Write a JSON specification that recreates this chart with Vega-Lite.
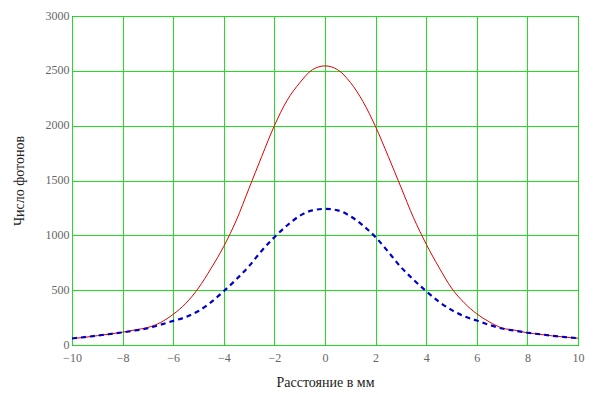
{
  "$schema": "https://vega.github.io/schema/vega-lite/v6.json",
  "width": 506,
  "height": 329,
  "autosize": {"type": "none"},
  "padding": {"left": 72, "top": 16, "right": 24, "bottom": 49},
  "background": "white",
  "config": {
    "view": {"stroke": "black", "strokeWidth": 1},
    "font": "Liberation Serif"
  },
  "datasets": {
    "red": [
      {"x": -10, "y": 58}, {"x": -9.5, "y": 70}, {"x": -9, "y": 85}, {"x": -8.5, "y": 100},
      {"x": -8, "y": 117}, {"x": -7.5, "y": 138}, {"x": -7, "y": 160}, {"x": -6.5, "y": 205},
      {"x": -6, "y": 280}, {"x": -5.5, "y": 380}, {"x": -5, "y": 520}, {"x": -4.5, "y": 700},
      {"x": -4, "y": 900}, {"x": -3.5, "y": 1140}, {"x": -3, "y": 1430}, {"x": -2.5, "y": 1720},
      {"x": -2, "y": 2000}, {"x": -1.5, "y": 2230}, {"x": -1, "y": 2390}, {"x": -0.5, "y": 2510},
      {"x": 0, "y": 2545}, {"x": 0.5, "y": 2510}, {"x": 1, "y": 2395}, {"x": 1.5, "y": 2220},
      {"x": 2, "y": 1990}, {"x": 2.5, "y": 1720}, {"x": 3, "y": 1440}, {"x": 3.5, "y": 1160},
      {"x": 4, "y": 920}, {"x": 4.5, "y": 710}, {"x": 5, "y": 520}, {"x": 5.5, "y": 385},
      {"x": 6, "y": 284}, {"x": 6.5, "y": 210}, {"x": 7, "y": 155}, {"x": 7.5, "y": 135},
      {"x": 8, "y": 111}, {"x": 8.5, "y": 97}, {"x": 9, "y": 83}, {"x": 9.5, "y": 72},
      {"x": 10, "y": 62}
    ],
    "blue": [
      {"x": -10, "y": 60}, {"x": -9.5, "y": 72}, {"x": -9, "y": 86}, {"x": -8.5, "y": 100},
      {"x": -8, "y": 115}, {"x": -7.5, "y": 132}, {"x": -7, "y": 153}, {"x": -6.5, "y": 185},
      {"x": -6, "y": 220}, {"x": -5.5, "y": 255}, {"x": -5, "y": 310}, {"x": -4.5, "y": 390},
      {"x": -4, "y": 491}, {"x": -3.5, "y": 600}, {"x": -3, "y": 720}, {"x": -2.5, "y": 860},
      {"x": -2, "y": 983}, {"x": -1.5, "y": 1090}, {"x": -1, "y": 1178}, {"x": -0.5, "y": 1228},
      {"x": 0, "y": 1241}, {"x": 0.5, "y": 1228}, {"x": 1, "y": 1175}, {"x": 1.5, "y": 1090},
      {"x": 2, "y": 983}, {"x": 2.5, "y": 850}, {"x": 3, "y": 710}, {"x": 3.5, "y": 595},
      {"x": 4, "y": 491}, {"x": 4.5, "y": 395}, {"x": 5, "y": 320}, {"x": 5.5, "y": 262},
      {"x": 6, "y": 223}, {"x": 6.5, "y": 183}, {"x": 7, "y": 150}, {"x": 7.5, "y": 130},
      {"x": 8, "y": 112}, {"x": 8.5, "y": 98}, {"x": 9, "y": 84}, {"x": 9.5, "y": 72},
      {"x": 10, "y": 62}
    ]
  },
  "layer": [
    {
      "data": {"name": "red"},
      "mark": {"type": "line", "color": "#e00000", "strokeWidth": 1, "interpolate": "monotone"},
      "encoding": {
        "x": {
          "field": "x", "type": "quantitative",
          "scale": {"domain": [-10, 10], "nice": false, "zero": false},
          "axis": {
            "values": [-10, -8, -6, -4, -2, 0, 2, 4, 6, 8, 10],
            "title": "Расстояние в мм",
            "grid": true, "gridColor": "#22dd22", "gridWidth": 1, "gridOpacity": 1,
            "domain": false, "ticks": false,
            "labelFlush": false, "labelOverlap": false, "labelBound": false,
            "labelColor": "#666666", "labelFontSize": 12, "labelPadding": 7,
            "labelFont": "Liberation Serif",
            "titleFont": "Liberation Serif", "titleFontSize": 14, "titleFontWeight": "normal",
            "titleColor": "#222222", "titlePadding": 12
          }
        },
        "y": {
          "field": "y", "type": "quantitative",
          "scale": {"domain": [0, 3000], "nice": false},
          "axis": {
            "values": [0, 500, 1000, 1500, 2000, 2500, 3000],
            "format": "d",
            "title": "Число фотонов",
            "grid": true, "gridColor": "#22dd22", "gridWidth": 1, "gridOpacity": 1,
            "domain": false, "ticks": false,
            "labelFlush": false, "labelOverlap": false, "labelBound": false,
            "labelColor": "#666666", "labelFontSize": 12, "labelPadding": 3, "labelOffset": -1,
            "labelFont": "Liberation Serif",
            "titleFont": "Liberation Serif", "titleFontSize": 14, "titleFontWeight": "normal",
            "titleColor": "#222222", "titlePadding": 19
          }
        }
      }
    },
    {
      "data": {"name": "blue"},
      "mark": {"type": "line", "color": "#0000cc", "strokeWidth": 2.2, "strokeDash": [5, 4], "interpolate": "monotone"},
      "encoding": {
        "x": {"field": "x", "type": "quantitative"},
        "y": {"field": "y", "type": "quantitative"}
      }
    }
  ]
}
